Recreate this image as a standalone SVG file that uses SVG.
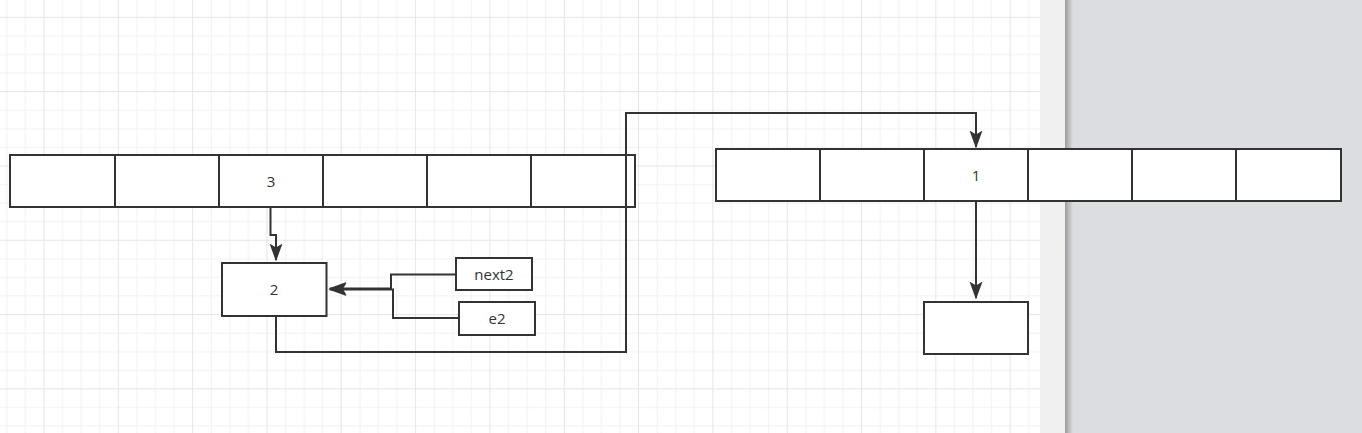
<svg xmlns="http://www.w3.org/2000/svg" width="1362" height="433" viewBox="0 0 1362 433">
<style>
.cell{fill:#fff;stroke:#333;stroke-width:2}
.lbl{font-family:"Open Sans","Noto Sans",sans-serif;font-size:15px;fill:#333;text-anchor:middle}
.edge{fill:none;stroke:#333;stroke-width:2}
</style>
<defs>
<pattern id="grid" patternUnits="userSpaceOnUse" x="43.5" y="16.8" width="74.32" height="74.32">
<path d="M19.08,0V74.32M37.66,0V74.32M56.24,0V74.32M0,19.08H74.32M0,37.66H74.32M0,56.24H74.32" stroke="#f1f1f1" stroke-width="1" fill="none"/>
<path d="M0.5,0V74.32M0,0.5H74.32" stroke="#e5e5e5" stroke-width="1" fill="none"/>
</pattern>
<linearGradient id="shade" x1="0" y1="0" x2="1" y2="0">
<stop offset="0" stop-color="#9c9c9e"/>
<stop offset="1" stop-color="#dcdde0"/>
</linearGradient>
<marker id="arr" markerUnits="userSpaceOnUse" markerWidth="19" markerHeight="14" refX="16.5" refY="7" orient="auto">
<path d="M0,0.5L18,7L0,13.5L4,7Z" fill="#333"/>
</marker>
</defs>
<rect x="0" y="0" width="1040" height="433" fill="#fff"/>
<rect x="0" y="0" width="1040" height="433" fill="url(#grid)"/>
<rect x="1040" y="0" width="25" height="433" fill="#f0f0f0"/>
<rect x="1065" y="0" width="297" height="433" fill="#dcdde0"/>
<rect x="1065" y="0" width="8" height="433" fill="url(#shade)"/>

<g id="left-array">
<g id="l0"><rect class="cell" x="10" y="155" width="105" height="52"/></g>
<g id="l1"><rect class="cell" x="115" y="155" width="104" height="52"/></g>
<g id="l2"><rect class="cell" x="219" y="155" width="104" height="52"/><text class="lbl" x="271" y="186.5">3</text></g>
<g id="l3"><rect class="cell" x="323" y="155" width="104" height="52"/></g>
<g id="l4"><rect class="cell" x="427" y="155" width="104" height="52"/></g>
<g id="l5"><rect class="cell" x="531" y="155" width="104" height="52"/></g>
</g>

<g id="right-array">
<g id="r0"><rect class="cell" x="716" y="149" width="104" height="52"/></g>
<g id="r1"><rect class="cell" x="820" y="149" width="104" height="52"/></g>
<g id="r2"><rect class="cell" x="924" y="149" width="104" height="52"/><text class="lbl" x="976" y="181">1</text></g>
<g id="r3"><rect class="cell" x="1028" y="149" width="104" height="52"/></g>
<g id="r4"><rect class="cell" x="1132" y="149" width="104" height="52"/></g>
<g id="r5"><rect class="cell" x="1236" y="149" width="105" height="52"/></g>
</g>

<g id="node2"><rect class="cell" x="222" y="263" width="104.5" height="53"/><text class="lbl" x="274" y="294.5">2</text></g>
<g id="next2"><rect class="cell" x="456" y="258" width="76" height="32"/><text class="lbl" x="494" y="280">next2</text></g>
<g id="e2"><rect class="cell" x="459" y="302" width="76" height="33"/><text class="lbl" x="497" y="323.5">e2</text></g>
<g id="empty"><rect class="cell" x="924" y="302" width="104" height="52"/></g>

<g id="connectors">
<path class="edge" d="M270.5,208V235H276V260" marker-end="url(#arr)"/>
<path class="edge" d="M456,274.5H391V288.5H330" marker-end="url(#arr)"/>
<path class="edge" d="M459,318H393V289.5H330" marker-end="url(#arr)"/>
<path class="edge" d="M276,316V352H626V113H976V147" marker-end="url(#arr)"/>
<path class="edge" d="M976,201V298" marker-end="url(#arr)"/>
</g>
</svg>
